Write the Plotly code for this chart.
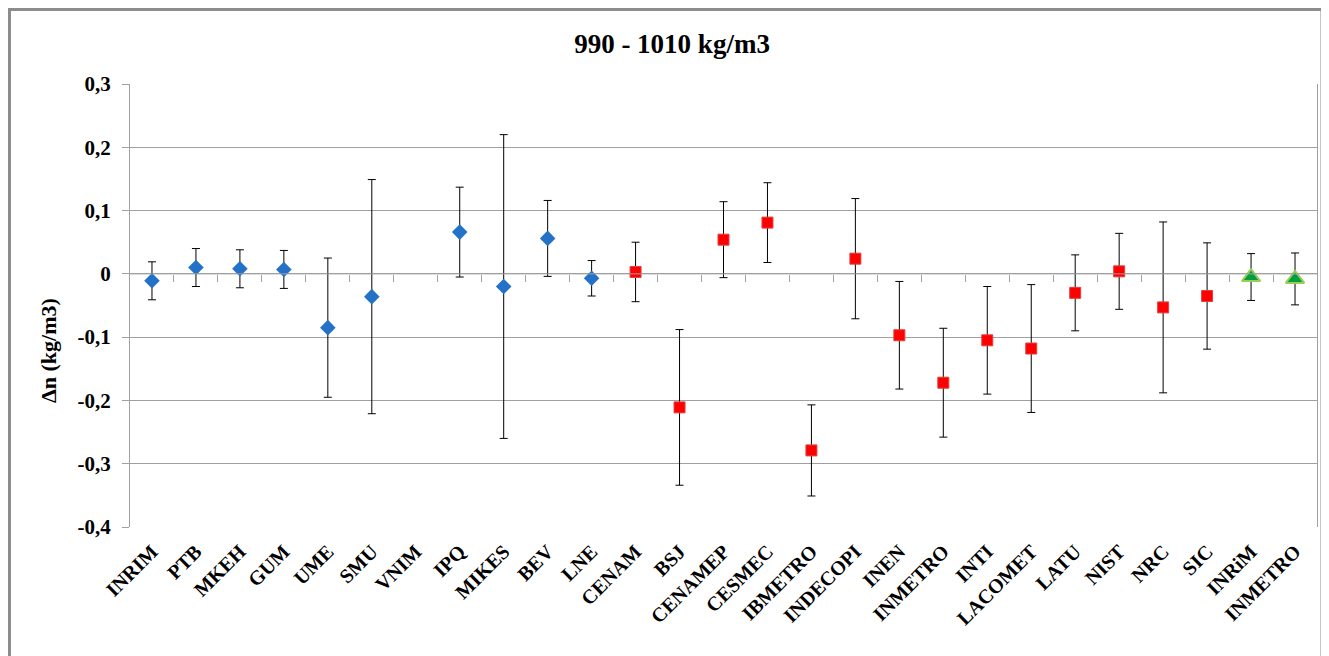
import plotly.graph_objects as go

# tick labels along the category axis (INMETRO appears twice)
labs = ['INRIM', 'PTB', 'MKEH', 'GUM', 'UME', 'SMU', 'VNIM', 'IPQ', 'MIKES', 'BEV', 'LNE',
        'CENAM', 'BSJ', 'CENAMEP', 'CESMEC', 'IBMETRO', 'INDECOPI', 'INEN', 'INMETRO', 'INTI',
        'LACOMET', 'LATU', 'NIST', 'NRC', 'SIC',
        'INRiM', 'INMETRO']

# first group (blue diamonds), VNIM has no result
grp1_d = [-0.011, 0.010, 0.008, 0.007, -0.085, -0.036, None, 0.066, -0.020, 0.056, -0.007]
grp1_u = [0.030, 0.030, 0.030, 0.030, 0.110, 0.185, None, 0.071, 0.240, 0.060, 0.028]

# second group (red squares)
grp2_d = [0.003, -0.211, 0.054, 0.081, -0.279, 0.024, -0.097, -0.172, -0.105, -0.118, -0.030, 0.004, -0.053, -0.035]
grp2_u = [0.047, 0.123, 0.060, 0.063, 0.072, 0.095, 0.085, 0.086, 0.085, 0.101, 0.060, 0.060, 0.135, 0.084]

# link labs (green triangles)
grp3_d = [-0.005, -0.008]
grp3_u = [0.037, 0.041]

y_ticks = [-0.4, -0.3, -0.2, -0.1, 0, 0.1, 0.2, 0.3]
y_labels = ['-0,4', '-0,3', '-0,2', '-0,1', '0', '0,1', '0,2', '0,3']

font = 'Liberation Serif'

# the page body adds an 8px offset, so the figure is 8px smaller than the window
W, H = 1321, 648
L, R, T, B = 122, 12, 76, 129
pw, ph = W - L - R, H - T - B

x1 = list(range(0, len(grp1_d)))
x2 = list(range(len(grp1_d), len(grp1_d) + len(grp2_d)))
x3 = list(range(len(grp1_d) + len(grp2_d), len(labs)))

fig = go.Figure()

err = dict(type='data', symmetric=True, color='black', thickness=1, width=4)

fig.add_trace(go.Scatter(x=x1, y=grp1_d, mode='markers',
                         error_y=dict(err, array=grp1_u),
                         marker=dict(symbol='diamond', size=12, color='#2472C8',
                                     line=dict(width=0))))
fig.add_trace(go.Scatter(x=x2, y=grp2_d, mode='markers',
                         error_y=dict(err, array=grp2_u),
                         marker=dict(symbol='square', size=11, color='#FF0000',
                                     line=dict(width=1, color='#E04040'))))
fig.add_trace(go.Scatter(x=x3, y=grp3_d, mode='markers',
                         error_y=dict(err, array=grp3_u),
                         marker=dict(symbol='triangle-up', size=16, color='#00A040',
                                     line=dict(width=2, color='#9BCB59'))))

# dummy trace to carry the axis at y=0 (tick marks between categories)
fig.add_trace(go.Scatter(x=[-0.5, len(labs) - 0.5], y=[0, 0], xaxis='x2', mode='lines',
                         line=dict(color='#A0A0A0', width=1), hoverinfo='skip'))

fig.update_layout(
    width=W, height=H,
    title=dict(text='<b>990 - 1010 kg/m3</b>', x=(672 - 8 - L) / pw, xref='paper', xanchor='center',
               y=1 - 36 / H, yanchor='middle',
               font=dict(family=font, size=27, color='black')),
    font=dict(family=font, color='black'),
    paper_bgcolor='white', plot_bgcolor='white',
    showlegend=False,
    margin=dict(l=L, r=R, t=T, b=B),
    xaxis=dict(range=[-0.5, len(labs) - 0.5], tickmode='array', tickvals=list(range(len(labs))),
               ticktext=['<b>%s</b>' % s for s in labs], tickangle=-45, ticks='',
               ticklabelstandoff=8,
               tickfont=dict(family=font, size=20, color='black'),
               showgrid=False, zeroline=False, showline=False),
    xaxis2=dict(range=[-0.5, len(labs) - 0.5], overlaying='x', anchor='free', position=0.4 / 0.7,
                tickmode='array', tickvals=[i + 0.5 for i in range(len(labs) - 1)],
                ticks='outside', ticklen=7, tickcolor='#A0A0A0', showticklabels=False,
                showgrid=False, zeroline=False, showline=False),
    yaxis=dict(range=[-0.4, 0.3], tickmode='array', tickvals=y_ticks,
               ticktext=['<b>%s</b>' % s for s in y_labels],
               tickfont=dict(family=font, size=21, color='black'),
               ticks='outside', ticklen=7, tickcolor='#A0A0A0', ticklabelstandoff=7,
               showgrid=True, gridcolor='#A0A0A0', gridwidth=1,
               zeroline=False, showline=True, linecolor='#A0A0A0', mirror=True),
    # axis title sits below the middle of the plot, as in the original
    annotations=[dict(text='<b>Δn (kg/m3)</b>', textangle=-90, showarrow=False,
                      xref='paper', yref='paper', x=(40 - L) / pw, y=(H - B - 343) / ph,
                      xanchor='center', yanchor='middle',
                      font=dict(family=font, size=22, color='black'))],
    shapes=[dict(type='rect', xref='paper', yref='paper',
                 x0=(1.5 - L) / pw, x1=(1314 - L) / pw,
                 y0=(H - B - 700) / ph, y1=(H - B - 1.5) / ph,
                 line=dict(color='#8C8C8C', width=3), fillcolor='rgba(0,0,0,0)', layer='below')],
)

fig.write_html('out.html')
